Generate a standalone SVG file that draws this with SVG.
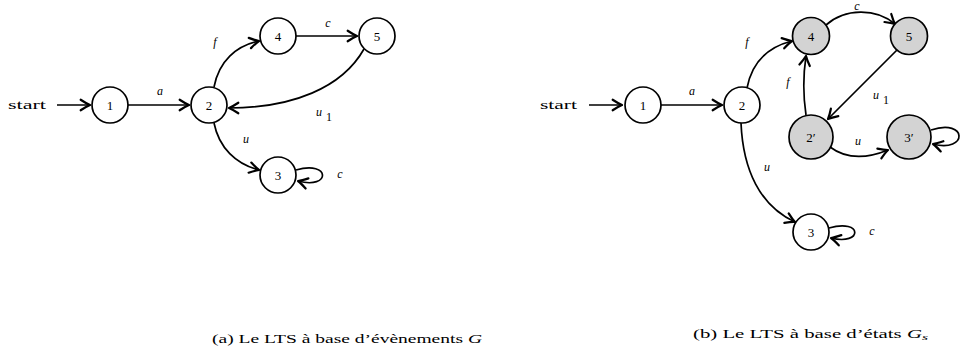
<svg xmlns="http://www.w3.org/2000/svg" width="971" height="351" viewBox="0 0 971 351">
  <style>
    .node circle { fill: #ffffff; stroke: #000000; stroke-width: 1.7; }
    .node.grey circle { fill: #d3d3d3; }
    .node text { font-family: "Liberation Serif", "DejaVu Serif", serif; font-size: 13px; text-anchor: middle; }
    .edges path { fill: none; stroke: #000000; stroke-width: 1.7; marker-end: url(#arrow); }
    .lbl { font-family: "Liberation Serif", "DejaVu Serif", serif; font-style: italic; font-size: 12px; text-anchor: middle; }
    .sub { font-family: "Liberation Serif", "DejaVu Serif", serif; font-size: 12px; }
    .start { font-family: "Liberation Serif", "DejaVu Serif", serif; font-size: 12px; }
    .caption { font-family: "Liberation Serif", "DejaVu Serif", serif; font-size: 12px; }
  </style>
  <defs>
    <marker id="arrow" markerUnits="userSpaceOnUse" markerWidth="14" markerHeight="14" viewBox="-9 -6 11 12" refX="0" refY="0" orient="auto">
      <path d="M-8,-4.5 Q-3,-1.2 0,0 Q-3,1.2 -8,4.5" fill="none" stroke="#000000" stroke-width="1.9" stroke-linecap="round" stroke-linejoin="round"/>
    </marker>
  </defs>
  <rect width="971" height="351" fill="#ffffff"/>

  <!-- (a) event-based LTS -->
  <g id="a-edges" class="edges">
    <path d="M57,105 L90,105"/>
    <path d="M128,105 L189,105"/>
    <path d="M214,87 C219,61 236,46 259,41"/>
    <path d="M296,36 L357,36"/>
    <path d="M364,49 C342,88 292,108 229,108"/>
    <path d="M214,123 C219,148 236,164 259,170"/>
    <path d="M296,170 C331,160 331,190 298,181"/>
  </g>
  <text class="start" x="8" y="109" textLength="38" lengthAdjust="spacingAndGlyphs">start</text>
  <g id="a-n1" class="node"><circle cx="110" cy="105" r="18"/><text x="110" y="109.5">1</text></g>
  <g id="a-n2" class="node"><circle cx="209" cy="105" r="18"/><text x="209" y="109.5">2</text></g>
  <g id="a-n4" class="node"><circle cx="278" cy="36" r="18"/><text x="278" y="40.5">4</text></g>
  <g id="a-n5" class="node"><circle cx="377" cy="36" r="18"/><text x="377" y="40.5">5</text></g>
  <g id="a-n3" class="node"><circle cx="278" cy="175" r="18"/><text x="278" y="179.5">3</text></g>
  <text class="lbl" x="160" y="95">a</text>
  <text class="lbl" x="215" y="46">f</text>
  <text class="lbl" x="328" y="27">c</text>
  <text class="lbl" x="319" y="116">u</text>
  <text class="sub" x="326" y="121">1</text>
  <text class="lbl" x="246" y="143">u</text>
  <text class="lbl" x="340" y="178">c</text>
  <text class="caption" x="212" y="343" textLength="270" lengthAdjust="spacingAndGlyphs">(a) Le LTS à base d’évènements <tspan font-style="italic">G</tspan></text>

  <!-- (b) state-based LTS -->
  <g id="b-edges" class="edges">
    <path d="M589,105 L622,105"/>
    <path d="M661,105 L722,105"/>
    <path d="M747,88 C752,62 768,47 792,41"/>
    <path d="M826,25 C845,8 876,8 895,24"/>
    <path d="M897,50 L828,119"/>
    <path d="M806,115 C803,95 803,76 806,56"/>
    <path d="M830,147 C846,159 866,159 888,150"/>
    <path d="M931,130 C968,118 968,153 933,144"/>
    <path d="M741,123 C743,170 760,206 795,222"/>
    <path d="M829,228 C863,218 863,246 831,238"/>
  </g>
  <text class="start" x="540" y="109" textLength="37" lengthAdjust="spacingAndGlyphs">start</text>
  <g id="b-n1" class="node"><circle cx="643" cy="105" r="18"/><text x="643" y="109.5">1</text></g>
  <g id="b-n2" class="node"><circle cx="742" cy="105" r="18"/><text x="742" y="109.5">2</text></g>
  <g id="b-n4" class="node grey"><circle cx="811" cy="36" r="18.5"/><text x="811" y="40.5">4</text></g>
  <g id="b-n5" class="node grey"><circle cx="909" cy="36" r="18.5"/><text x="909" y="40.5">5</text></g>
  <g id="b-n2p" class="node grey"><circle cx="811" cy="137" r="22"/><text x="811" y="141.5">2′</text></g>
  <g id="b-n3p" class="node grey"><circle cx="909" cy="137" r="22"/><text x="909" y="141.5">3′</text></g>
  <g id="b-n3" class="node"><circle cx="811" cy="232" r="18"/><text x="811" y="236.5">3</text></g>
  <text class="lbl" x="692" y="95">a</text>
  <text class="lbl" x="747" y="46">f</text>
  <text class="lbl" x="857" y="10">c</text>
  <text class="lbl" x="788" y="86">f</text>
  <text class="lbl" x="876" y="99">u</text>
  <text class="sub" x="883" y="104">1</text>
  <text class="lbl" x="858" y="145">u</text>
  <text class="lbl" x="767" y="171">u</text>
  <text class="lbl" x="872" y="235">c</text>
  <text class="caption" x="693" y="338" textLength="235" lengthAdjust="spacingAndGlyphs">(b) Le LTS à base d’états <tspan font-style="italic">G<tspan font-size="9" dy="2">s</tspan></tspan></text>
</svg>
